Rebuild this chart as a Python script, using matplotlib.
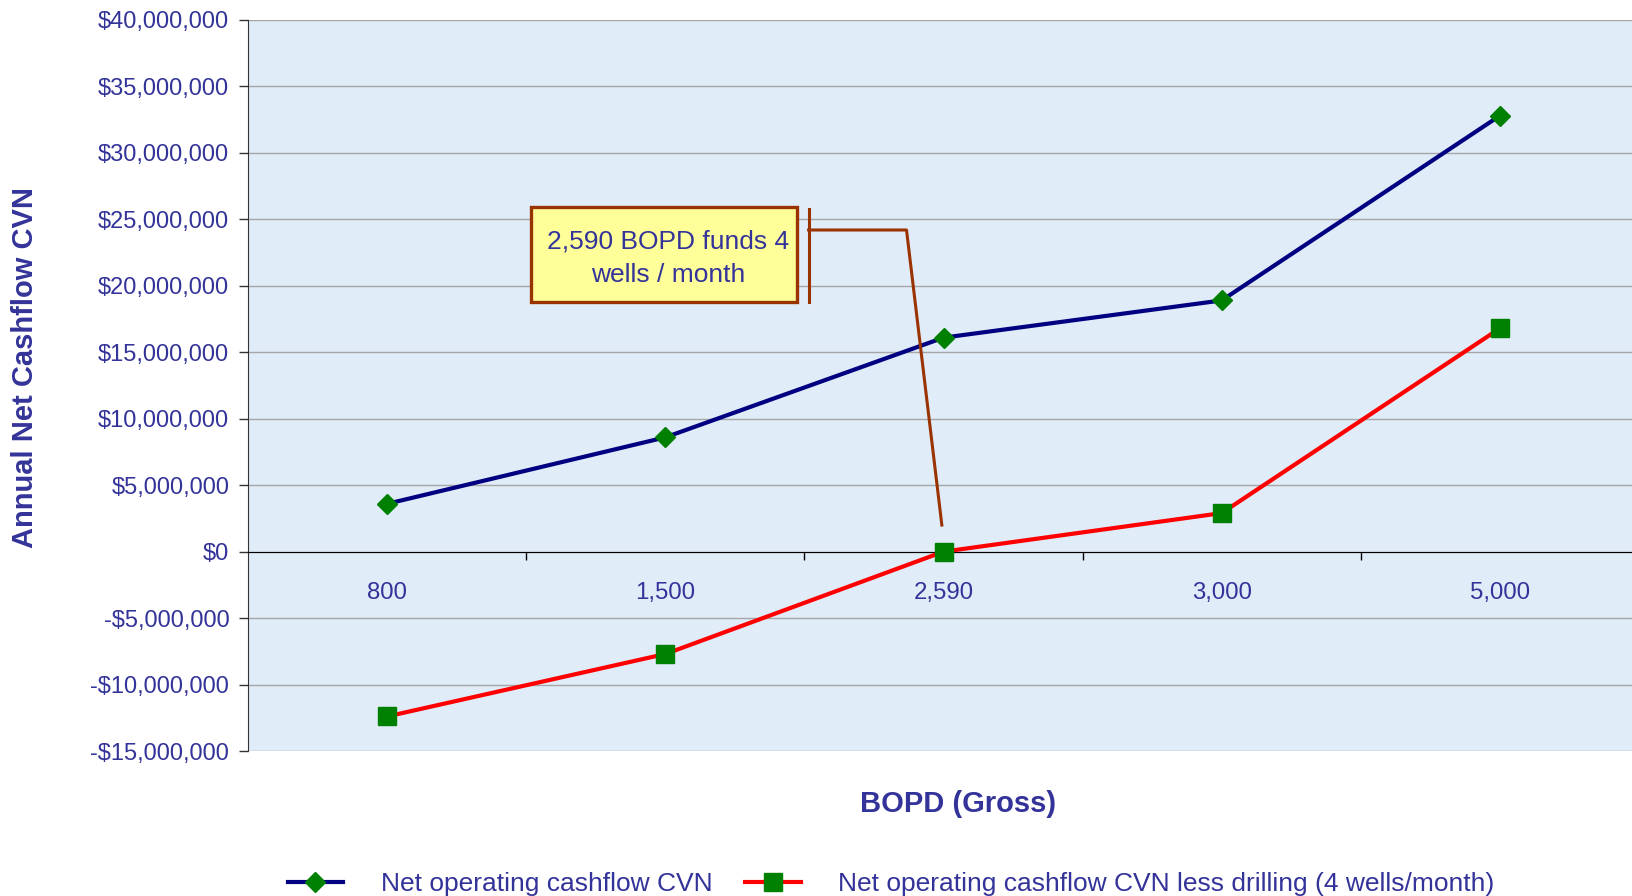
import matplotlib
matplotlib.use("Agg")
import matplotlib.pyplot as plt
from matplotlib.patches import Rectangle
from matplotlib.ticker import FuncFormatter, FixedLocator

# data
bopd = ["800", "1,500", "2,590", "3,000", "5,000"]
net_cashflow = [3.6e6, 8.6e6, 16.1e6, 18.9e6, 32.8e6]
net_less_drilling = [-12.4e6, -7.7e6, 0.0, 2.9e6, 16.8e6]
y_ticks = list(range(-15_000_000, 40_000_001, 5_000_000))

label_a = "Net operating cashflow CVN"
label_b = "Net operating cashflow CVN less drilling (4 wells/month)"
callout = "2,590 BOPD funds 4\nwells / month"

plt.rcParams['font.family'] = ['Liberation Sans', 'DejaVu Sans']
txt = '#333399'
brown = '#993300'

fig = plt.figure(figsize=(16.32, 8.96), dpi=100)
ax = fig.add_axes([0.152, 0.1618, 0.848, 0.8159])
ax.set_facecolor('#e1ecf9')

x = list(range(len(bopd)))
ax.plot(x, net_cashflow, color='#000080', lw=3, marker='D', ms=10,
        mfc='#008000', mec='#008000', label=label_a, zorder=4)
ax.plot(x, net_less_drilling, color='#ff0000', lw=3, marker='s', ms=13,
        mfc='#008000', mec='#008000', label=label_b, zorder=4)

ax.set_xlim(-0.5, 4.475)
ax.set_ylim(-15e6, 40e6)

# y axis
ax.set_yticks(y_ticks)
def money(v, pos):
    return f"-${abs(v):,.0f}" if v < 0 else f"${v:,.0f}"
ax.yaxis.set_major_formatter(FuncFormatter(money))
ax.tick_params(axis='y', labelsize=17, labelcolor=txt, length=6.5, width=1,
               color='#333333', pad=7)
ax.yaxis.grid(True, color='#a6a6a6', lw=1)
ax.set_axisbelow(True)

# x axis sits on zero
ax.spines['bottom'].set_position(('data', 0))
ax.spines['bottom'].set_color('black')
ax.spines['top'].set_visible(False)
ax.spines['right'].set_visible(False)
ax.spines['left'].set_color('#333333')
ax.set_xticks(x)
ax.set_xticklabels(bopd)
ax.xaxis.set_minor_locator(FixedLocator([0.5, 1.5, 2.5, 3.5]))
ax.tick_params(axis='x', which='major', length=0, labelsize=17.3, labelcolor=txt, pad=22)
ax.tick_params(axis='x', which='minor', length=6, width=1, color='black', direction='out')

# callout box
ax.add_patch(Rectangle((0.516, 18.75e6), 0.958, 7.19e6, facecolor='#ffff99',
                       edgecolor=brown, lw=2.4, zorder=5))
ax.text(1.01, 22.1e6, callout, ha='center', va='center', fontsize=19,
        color=txt, linespacing=1.5, zorder=6)
ax.plot([1.515, 1.515], [18.75e6, 25.8e6], color=brown, lw=2.2, zorder=5)
ax.plot([1.515, 1.867, 1.994], [24.2e6, 24.2e6, 2.0e6], color=brown, lw=2.2, zorder=5)

fig.text(25 / 1632, 1 - 368 / 896, "Annual Net Cashflow CVN", rotation=90,
         ha='center', va='center', fontsize=21, fontweight='bold', color=txt)
fig.text(958 / 1632, 1 - 804 / 896, "BOPD (Gross)", ha='center', va='center',
         fontsize=21, fontweight='bold', color=txt)

fig.legend(loc='center', bbox_to_anchor=(0.546, 1 - 884 / 896), ncol=2,
           frameon=False, fontsize=19, labelcolor=txt, handlelength=2.1,
           handletextpad=1.42, columnspacing=1.26)

fig.savefig("out.png", dpi=100)
